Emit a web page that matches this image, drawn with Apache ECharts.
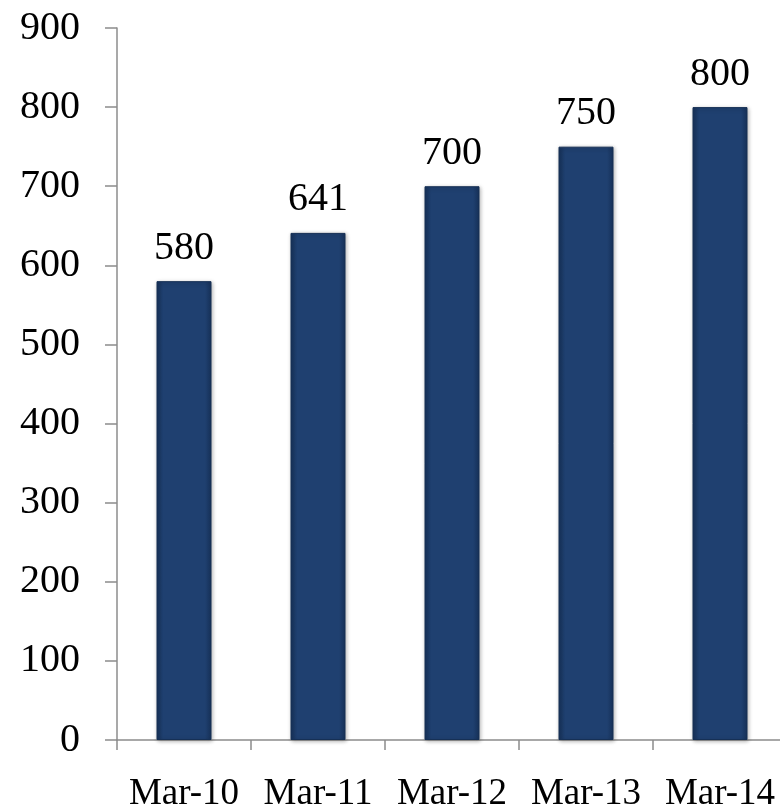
<!DOCTYPE html>
<html><head><meta charset="utf-8">
<script src="https://cdn.jsdelivr.net/npm/echarts@6/dist/echarts.min.js"></script>
<style>html,body{margin:0;padding:0;background:#fff}#c{width:780px;height:807px}</style>
</head><body><div id="c"></div>
<script>
const categories = ['Mar-10', 'Mar-11', 'Mar-12', 'Mar-13', 'Mar-14'];
const values = [580, 641, 700, 750, 800];
const yMin = 0, yMax = 900, yStep = 100;

const chart = echarts.init(document.getElementById('c'), null, {renderer: 'canvas'});
const font = '"Liberation Serif", "Times New Roman", serif';
chart.setOption({
  animation: false,
  grid: {left: 117, top: 28, width: 670, height: 712, containLabel: false, outerBoundsMode: 'none'},
  xAxis: {
    type: 'category', data: categories,
    axisLine: {lineStyle: {color: '#8c8c8c', width: 1.5}},
    axisTick: {show: true, interval: 0, length: 10, lineStyle: {color: '#8c8c8c', width: 1.5}},
    axisLabel: {interval: 0, fontFamily: font, fontSize: 37, color: '#000', margin: 36}
  },
  yAxis: {
    type: 'value', min: yMin, max: yMax, interval: yStep,
    splitLine: {show: false},
    axisLine: {show: true, lineStyle: {color: '#8c8c8c', width: 1.5}},
    axisTick: {show: true, length: 12, lineStyle: {color: '#8c8c8c', width: 1.5}},
    axisLabel: {fontFamily: font, fontSize: 40, color: '#000', margin: 37}
  },
  series: [{
    type: 'bar', data: values, barWidth: 55,
    itemStyle: {
      color: new echarts.graphic.LinearGradient(0, 0, 1, 0, [
        {offset: 0, color: '#17325a'},
        {offset: 0.12, color: '#1f4070'},
        {offset: 0.88, color: '#1f4070'},
        {offset: 1, color: '#17325a'}
      ]),
      borderColor: '#163055', borderWidth: 1,
      shadowColor: 'rgba(0,0,0,0.3)', shadowBlur: 4, shadowOffsetX: 1, shadowOffsetY: 1
    },
    label: {show: true, position: 'top', distance: 13, fontFamily: font, fontSize: 40, color: '#000'}
  }]
});
</script></body></html>
